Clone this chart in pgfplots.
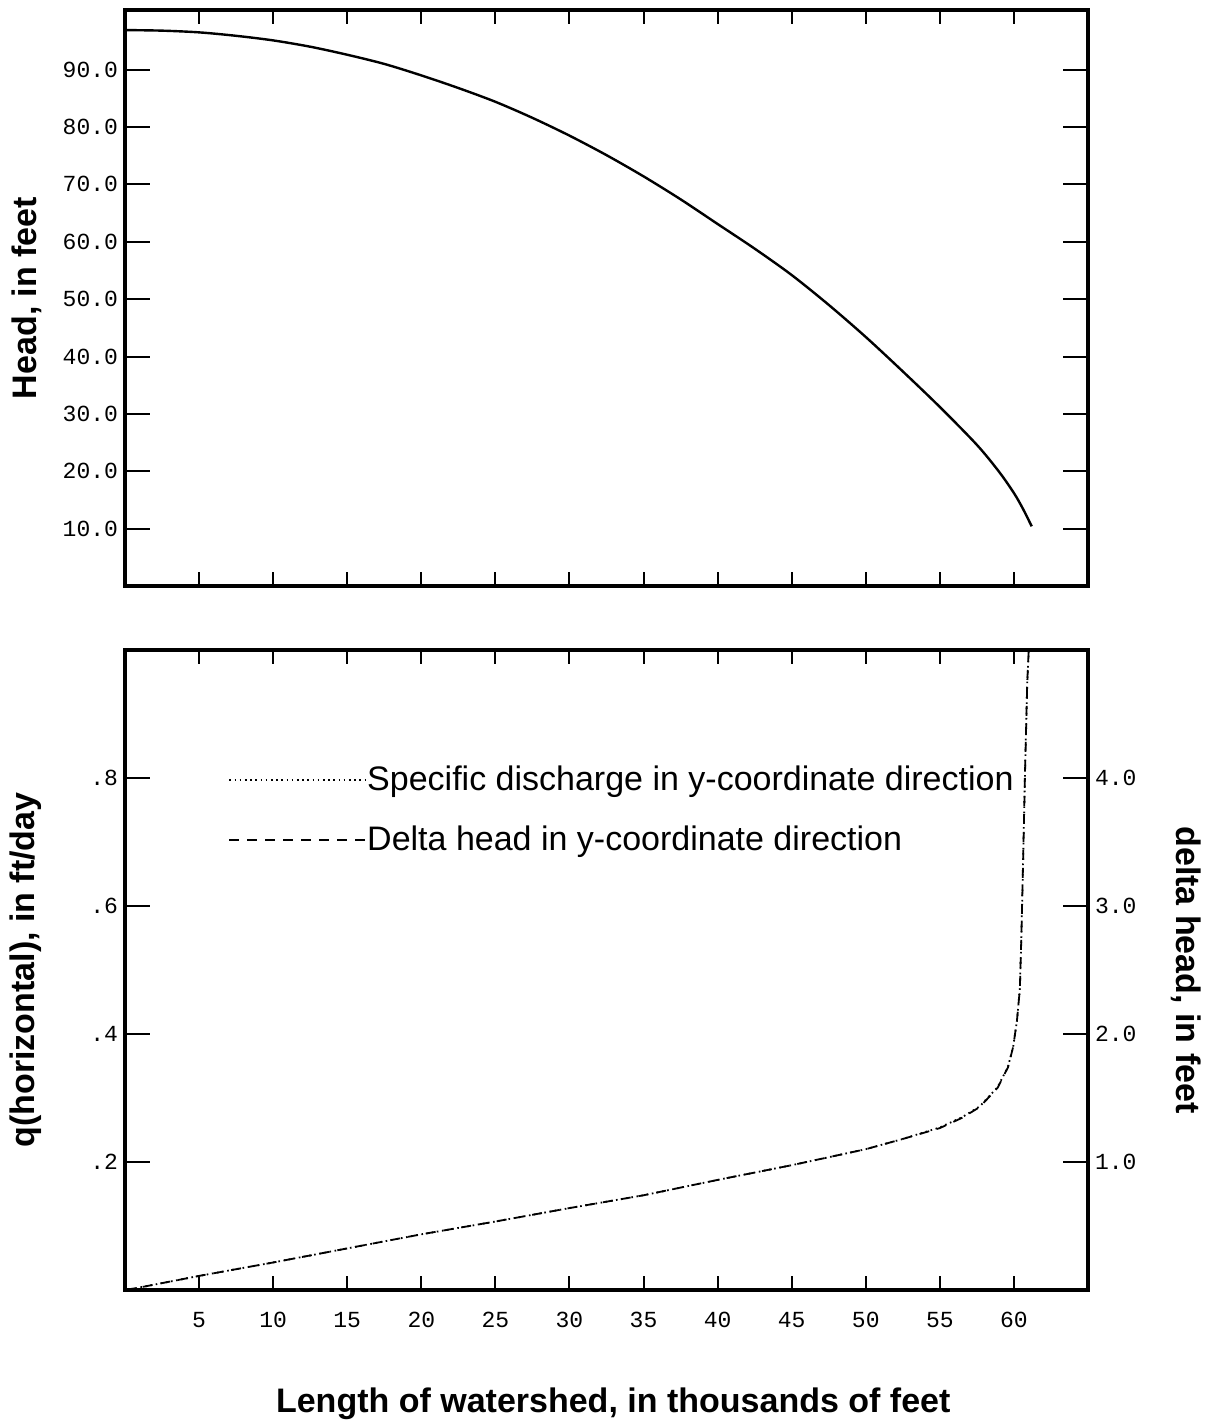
\documentclass[border=0pt]{standalone}
\usepackage{fontspec}
\setmainfont{Liberation Sans}
\setmonofont{Liberation Mono}
\usepackage{pgfplots}
\pgfplotsset{compat=1.18}
\tikzset{lblfont/.style={font=\fontsize{17}{20}\selectfont\bfseries}}

\pgfplotstableread{
x head
0 96.9
2.5 96.8
5 96.5
7.5 95.9
10 95.1
12.5 94.0
15 92.6
17.5 91.0
20 89.0
22.5 86.8
25 84.4
27.5 81.6
30 78.5
32.5 75.1
35 71.4
37.5 67.4
40 63.1
42.5 58.8
45 54.2
47.5 49.0
50 43.4
52.5 37.4
55 31.2
57.5 24.6
59 19.9
60 16.2
60.6 13.5
61.2 10.4
}\headtable

\pgfplotstableread{
x q
0 0.000
1 0.004
5 0.022
10 0.043
15 0.065
20 0.087
25 0.107
30 0.128
35 0.148
40 0.172
45 0.195
50 0.220
52.5 0.236
55 0.254
56.5 0.270
57.7 0.287
58.9 0.317
59.6 0.349
59.95 0.380
60.2 0.420
60.4 0.470
60.5 0.550
60.6 0.650
60.75 0.810
60.9 0.950
61.0 1.000
}\qtable

\pgfplotstableread{
x dh
0 0.000
1 0.020
5 0.110
10 0.215
15 0.325
20 0.435
25 0.535
30 0.640
35 0.740
40 0.860
45 0.975
50 1.100
52.5 1.180
55 1.265
56.5 1.345
57.7 1.430
58.9 1.580
59.6 1.740
59.95 1.900
60.2 2.100
60.4 2.350
60.5 2.750
60.6 3.250
60.75 4.050
60.9 4.750
61.0 5.000
}\dhtable

\begin{document}
\begin{tikzpicture}
\useasboundingbox (0,0) rectangle (603.5pt,713pt);
\pgfplotsset{
  common/.style={
    scale only axis, width=481.5pt, xmin=0, xmax=65,
    axis line style={line width=1.8pt},
    tick style={line width=1pt, black},
    major tick length=12.5pt,
    xtick style={/pgfplots/major tick length=7pt},
    tick align=inside,
    xtick={5,10,...,60},
    ticklabel style={font=\fontsize{11.5}{12}\selectfont\ttfamily},
  },
}
% top panel
\begin{axis}[common, at={(62.5pt,420pt)}, anchor=south west, height=288pt,
  ymin=0, ymax=100.4,
  ytick={10,20,30,40,50,60,70,80,90},
  yticklabels={10.0,20.0,30.0,40.0,50.0,60.0,70.0,80.0,90.0},
  xticklabels={},
  ylabel={Head, in feet},
  every axis y label/.style={at={(axis description cs:-0.102,0.5)}, rotate=90, anchor=center, lblfont}]
\addplot[line width=1.2pt, smooth, black] table[x=x, y=head] {\headtable};
\end{axis}

% bottom panel, left axis
\begin{axis}[common, at={(62.5pt,68pt)}, anchor=south west, height=320pt,
  ymin=0, ymax=1,
  ytick={0.2,0.4,0.6,0.8}, yticklabels={.2,.4,.6,.8},
  ytick pos=left,
  xticklabels={5,10,15,20,25,30,35,40,45,50,55,60},
  xticklabel style={yshift=-7.5pt},
  xlabel={Length of watershed, in thousands of feet},
  every axis x label/.style={at={(axis description cs:0.507,-0.192)}, anchor=base, lblfont},
  ylabel={q(horizontal), in ft/day},
  every axis y label/.style={at={(axis description cs:-0.103,0.5)}, rotate=90, anchor=center, lblfont},
  legend style={draw=none, fill=none, at={(axis description cs:0.107,0.75)}, anchor=west,
    font=\fontsize{17}{20}\selectfont, row sep=16pt, inner sep=0pt, nodes={inner sep=0pt},
    column sep=0pt},
  legend cell align=left,
  legend image code/.code={\draw[#1] (0pt,0pt) -- (68.5pt,0pt);}]
\addplot[black, line width=0.9pt, dash pattern=on 0.8pt off 1.8pt] table[x=x, y=q] {\qtable};
\addlegendentry{Specific discharge in y-coordinate direction}
\addlegendimage{black, line width=0.9pt, dash pattern=on 5pt off 4pt}
\addlegendentry{Delta head in y-coordinate direction}
\end{axis}

% bottom panel, right axis
\begin{axis}[common, at={(62.5pt,68pt)}, anchor=south west, height=320pt,
  ymin=0, ymax=5,
  axis y line*=right, axis x line=none,
  ytick={1,2,3,4}, yticklabels={1.0,2.0,3.0,4.0},
  ylabel={delta head, in feet},
  every axis y label/.style={at={(axis description cs:1.102,0.5)}, rotate=-90, anchor=center, lblfont}]
\addplot[black, line width=0.9pt, dash pattern=on 5pt off 4pt] table[x=x, y=dh] {\dhtable};
\end{axis}
\end{tikzpicture}
\end{document}
